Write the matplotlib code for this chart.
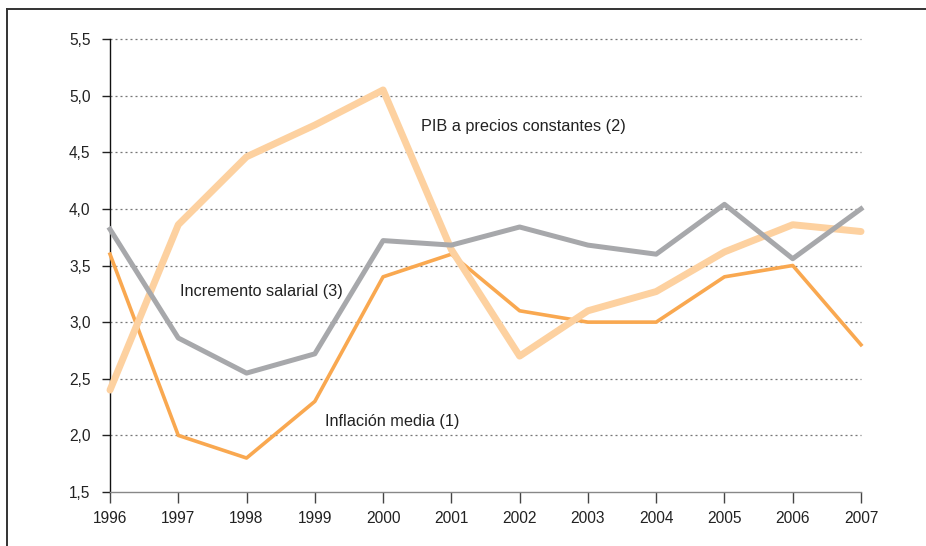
import matplotlib.pyplot as plt
from matplotlib.lines import Line2D

years = [1996, 1997, 1998, 1999, 2000, 2001, 2002, 2003, 2004, 2005, 2006, 2007]
inflacion = [3.6, 2.0, 1.8, 2.3, 3.4, 3.6, 3.1, 3.0, 3.0, 3.4, 3.5, 2.8]
pib = [2.4, 3.86, 4.46, 4.74, 5.05, 3.64, 2.7, 3.1, 3.27, 3.62, 3.86, 3.8]
salarial = [3.82, 2.86, 2.55, 2.72, 3.72, 3.68, 3.84, 3.68, 3.6, 4.04, 3.56, 4.0]
yticks = [1.5, 2.0, 2.5, 3.0, 3.5, 4.0, 4.5, 5.0, 5.5]

plt.rcParams['font.family'] = ['Liberation Sans', 'DejaVu Sans']

fig = plt.figure(figsize=(9.26, 5.46), dpi=100)
ax = fig.add_axes([110 / 926, 1 - 492 / 546, 751 / 926, 453 / 546])

# frame around the chart (only top and left edges are visible)
fig.add_artist(Line2D([7 / 926, 1.0], [1 - 9 / 546, 1 - 9 / 546], color='#333333', lw=1.4))
fig.add_artist(Line2D([7 / 926, 7 / 926], [0, 1 - 9 / 546], color='#333333', lw=1.4))

# grid lines
for v in yticks[1:]:
    ax.plot([1996, 2007], [v, v], color='#777777', lw=0.9,
            linestyle=(0, (1.6, 2.4)), zorder=1, clip_on=False)

ax.plot(years, inflacion, color='#F9A850', lw=2.6, zorder=3, clip_on=False)
ax.plot(years, pib, color='#FDD1A0', lw=5.0, zorder=4, clip_on=False, solid_capstyle='round')
ax.plot(years, salarial, color='#A7A8AB', lw=3.6, zorder=5, clip_on=False)

ax.text(2000.55, 4.73, 'PIB a precios constantes (2)', fontsize=11.7, color='#222222', va='center')
ax.text(1997.02, 3.27, 'Incremento salarial (3)', fontsize=11.7, color='#222222', va='center')
ax.text(1999.15, 2.12, 'Inflación media (1)', fontsize=11.7, color='#222222', va='center')

ax.set_xlim(1996, 2007)
ax.set_ylim(1.5, 5.5)
ax.set_xticks(years)
ax.set_xticklabels([str(y) for y in years])
ax.set_yticks(yticks)
ax.set_yticklabels([f'{v:.1f}'.replace('.', ',') for v in yticks])

for s in ['top', 'right']:
    ax.spines[s].set_visible(False)
ax.spines['left'].set_color('#111111')
ax.spines['left'].set_linewidth(1.0)
ax.spines['bottom'].set_color('#888888')
ax.spines['bottom'].set_linewidth(1.0)

ax.tick_params(axis='y', length=6, width=1.0, color='#222222', labelsize=11.2, pad=8, labelcolor='#222222')
ax.tick_params(axis='x', length=8, width=1.0, color='#444444', labelsize=11.2, pad=6, labelcolor='#222222')

fig.savefig('out.png', dpi=100)
